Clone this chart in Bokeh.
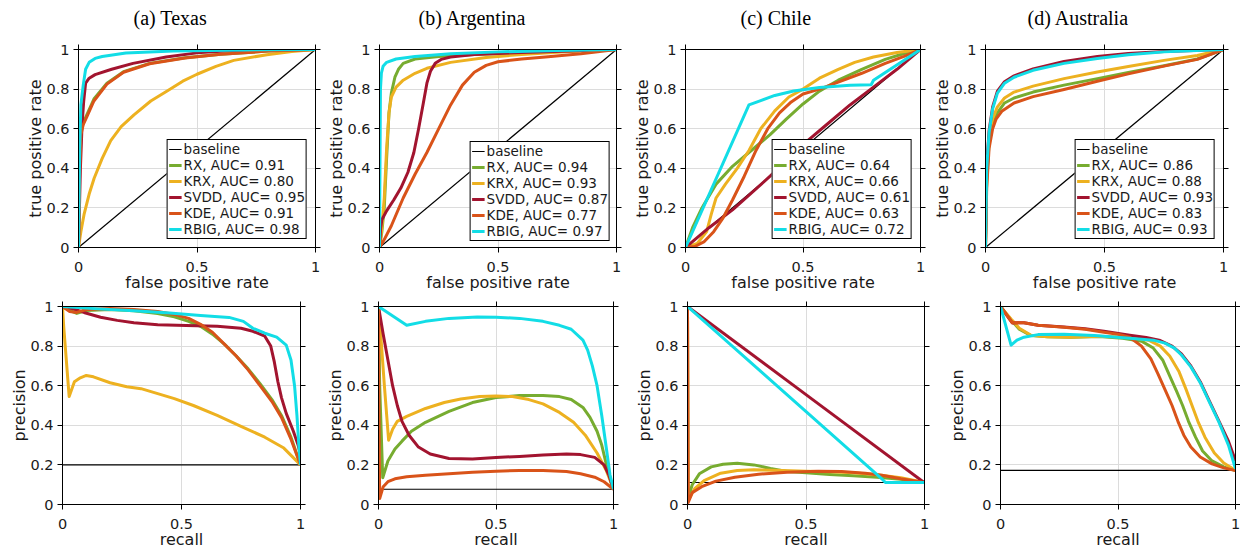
from bokeh.plotting import figure
from bokeh.layouts import row, column
from bokeh.models import Range1d, LinearAxis, FixedTicker, Legend, LegendItem, CustomJSTickFormatter
from bokeh.embed import file_html
from bokeh.resources import INLINE

FONT = "DejaVu Sans"
methods = ["RX", "KRX", "SVDD", "KDE", "RBIG"]
colors = ["#77AC30", "#EDB120", "#A2142F", "#D95319", "#12DDE6"]
titles = ["(a) Texas", "(b) Argentina", "(c) Chile", "(d) Australia"]
auc_tx = [0.91, 0.80, 0.95, 0.91, 0.98]
auc_ar = [0.94, 0.93, 0.87, 0.77, 0.97]
auc_cl = [0.64, 0.66, 0.61, 0.63, 0.72]
auc_au = [0.86, 0.88, 0.93, 0.83, 0.93]
x_ticks = [0, 0.5, 1]
y_ticks = [0, 0.2, 0.4, 0.6, 0.8, 1]
roc_baseline = [(0, 0), (1, 1)]
pr_baseline = [0.2, 0.077, 0.111, 0.172]

# ---- ROC curves (false positive rate, true positive rate) ----
tx_roc_rx = [(0,0),(0.005,0.42),(0.01,0.58),(0.02,0.63),(0.035,0.67),(0.065,0.75),(0.12,0.83),(0.19,0.888),(0.3,0.93),(0.45,0.958),(0.6,0.976),(0.8,0.992),(1,1)]
tx_roc_krx = [(0,0),(0.01,0.08),(0.024,0.17),(0.045,0.27),(0.066,0.35),(0.1,0.45),(0.136,0.54),(0.18,0.61),(0.234,0.67),(0.305,0.74),(0.374,0.79),(0.44,0.84),(0.5,0.875),(0.58,0.915),(0.655,0.945),(0.795,0.974),(0.9,0.99),(1,1)]
tx_roc_svdd = [(0,0),(0.008,0.4),(0.015,0.62),(0.022,0.74),(0.03,0.83),(0.045,0.855),(0.07,0.873),(0.14,0.9),(0.23,0.93),(0.37,0.962),(0.5,0.983),(0.65,0.995),(1,1)]
tx_roc_kde = [(0,0),(0.005,0.4),(0.01,0.57),(0.02,0.62),(0.035,0.66),(0.065,0.74),(0.12,0.825),(0.19,0.885),(0.3,0.928),(0.45,0.957),(0.6,0.976),(0.8,0.992),(1,1)]
tx_roc_rbig = [(0,0),(0.005,0.5),(0.01,0.72),(0.02,0.82),(0.03,0.9),(0.045,0.935),(0.07,0.955),(0.1,0.965),(0.2,0.982),(0.4,0.993),(0.7,0.998),(1,1)]

ar_roc_rx = [(0,0),(0.01,0.08),(0.02,0.2),(0.03,0.45),(0.04,0.68),(0.05,0.78),(0.065,0.86),(0.08,0.9),(0.1,0.93),(0.15,0.952),(0.25,0.965),(0.4,0.975),(0.6,0.985),(0.8,0.993),(1,1)]
ar_roc_krx = [(0,0),(0.01,0.1),(0.02,0.25),(0.03,0.5),(0.04,0.68),(0.05,0.76),(0.07,0.81),(0.1,0.845),(0.15,0.88),(0.2,0.905),(0.3,0.935),(0.45,0.96),(0.6,0.975),(0.8,0.99),(1,1)]
ar_roc_svdd = [(0,0),(0.005,0.1),(0.01,0.14),(0.03,0.185),(0.06,0.24),(0.09,0.3),(0.12,0.38),(0.145,0.48),(0.165,0.6),(0.185,0.73),(0.2,0.83),(0.215,0.89),(0.235,0.93),(0.26,0.95),(0.3,0.962),(0.4,0.975),(0.6,0.985),(0.8,0.993),(1,1)]
ar_roc_kde = [(0,0),(0.02,0.04),(0.05,0.11),(0.1,0.25),(0.15,0.37),(0.2,0.48),(0.25,0.6),(0.3,0.72),(0.35,0.82),(0.4,0.885),(0.45,0.92),(0.5,0.938),(0.6,0.952),(0.7,0.962),(0.85,0.978),(1,1)]
ar_roc_rbig = [(0,0),(0.002,0.4),(0.004,0.8),(0.008,0.88),(0.015,0.915),(0.03,0.935),(0.07,0.952),(0.15,0.965),(0.3,0.978),(0.5,0.988),(0.75,0.995),(1,1)]

cl_roc_rx = [(0,0),(0.03,0.1),(0.07,0.2),(0.13,0.32),(0.2,0.41),(0.28,0.49),(0.36,0.57),(0.43,0.65),(0.5,0.725),(0.57,0.79),(0.65,0.845),(0.75,0.9),(0.85,0.95),(0.93,0.98),(1,1)]
cl_roc_krx = [(0,0),(0.05,0.02),(0.09,0.08),(0.11,0.17),(0.13,0.25),(0.17,0.32),(0.22,0.4),(0.27,0.49),(0.32,0.6),(0.38,0.69),(0.44,0.76),(0.5,0.8),(0.57,0.855),(0.65,0.9),(0.72,0.935),(0.8,0.962),(0.9,0.985),(1,1)]
cl_roc_svdd = [(0,0),(0.1,0.1),(0.2,0.19),(0.36,0.36),(0.45,0.46),(0.52,0.54),(0.6,0.62),(0.7,0.72),(0.8,0.81),(0.9,0.9),(1,1)]
cl_roc_kde = [(0,0),(0.04,0.005),(0.08,0.03),(0.12,0.08),(0.16,0.15),(0.2,0.24),(0.25,0.36),(0.3,0.49),(0.35,0.6),(0.4,0.68),(0.45,0.735),(0.5,0.775),(0.57,0.8),(0.65,0.835),(0.75,0.88),(0.85,0.93),(0.93,0.965),(1,1)]
cl_roc_rbig = [(0,0),(0.27,0.72),(0.32,0.742),(0.38,0.768),(0.46,0.79),(0.57,0.808),(0.7,0.82),(0.79,0.822),(0.8,0.845),(0.86,0.892),(1,1)]

au_roc_rx = [(0,0),(0.005,0.33),(0.015,0.53),(0.03,0.62),(0.05,0.68),(0.08,0.73),(0.12,0.755),(0.2,0.785),(0.33,0.82),(0.47,0.853),(0.6,0.884),(0.75,0.918),(0.89,0.952),(1,1)]
au_roc_krx = [(0,0),(0.005,0.35),(0.015,0.55),(0.03,0.65),(0.05,0.71),(0.08,0.755),(0.12,0.785),(0.2,0.815),(0.33,0.853),(0.47,0.886),(0.6,0.914),(0.75,0.945),(0.89,0.97),(1,1)]
au_roc_svdd = [(0,0),(0.005,0.41),(0.015,0.59),(0.03,0.71),(0.05,0.79),(0.08,0.837),(0.12,0.867),(0.2,0.902),(0.33,0.94),(0.47,0.965),(0.6,0.98),(0.75,0.99),(1,1)]
au_roc_kde = [(0,0),(0.005,0.3),(0.015,0.5),(0.03,0.6),(0.045,0.65),(0.07,0.69),(0.12,0.73),(0.2,0.762),(0.33,0.798),(0.47,0.84),(0.6,0.877),(0.75,0.916),(0.89,0.95),(1,1)]
au_roc_rbig = [(0,0),(0.005,0.4),(0.015,0.58),(0.03,0.7),(0.05,0.78),(0.08,0.83),(0.12,0.86),(0.2,0.895),(0.33,0.93),(0.47,0.955),(0.6,0.974),(0.75,0.988),(1,1)]

# ---- Precision-recall curves (recall, precision) ----
tx_pr_rx = [(0,1),(0.03,0.98),(0.06,0.965),(0.1,0.98),(0.2,0.985),(0.3,0.978),(0.4,0.965),(0.47,0.948),(0.53,0.925),(0.58,0.9),(0.63,0.86),(0.68,0.81),(0.73,0.75),(0.78,0.685),(0.83,0.61),(0.88,0.53),(0.92,0.45),(0.96,0.34),(1,0.2)]
tx_pr_krx = [(0,1),(0.005,0.9),(0.028,0.545),(0.05,0.62),(0.075,0.64),(0.1,0.652),(0.13,0.645),(0.2,0.615),(0.27,0.595),(0.33,0.585),(0.4,0.56),(0.47,0.535),(0.55,0.5),(0.65,0.45),(0.75,0.395),(0.85,0.34),(0.93,0.285),(1,0.2)]
tx_pr_svdd = [(0,1),(0.04,0.99),(0.09,0.97),(0.16,0.946),(0.23,0.93),(0.3,0.918),(0.4,0.908),(0.52,0.904),(0.65,0.9),(0.75,0.89),(0.8,0.875),(0.85,0.85),(0.875,0.8),(0.89,0.72),(0.905,0.62),(0.92,0.54),(0.94,0.46),(0.97,0.37),(0.99,0.3),(1,0.25)]
tx_pr_kde = [(0,1),(0.03,0.975),(0.06,0.97),(0.1,0.985),(0.2,0.99),(0.3,0.985),(0.4,0.975),(0.47,0.96),(0.53,0.94),(0.58,0.91),(0.63,0.87),(0.68,0.81),(0.73,0.75),(0.78,0.68),(0.83,0.6),(0.88,0.52),(0.92,0.44),(0.96,0.33),(1,0.2)]
tx_pr_rbig = [(0,1),(0.15,0.988),(0.3,0.978),(0.45,0.967),(0.58,0.955),(0.7,0.945),(0.76,0.925),(0.8,0.89),(0.85,0.865),(0.9,0.845),(0.94,0.805),(0.96,0.73),(0.975,0.6),(0.985,0.45),(0.993,0.3),(1,0.2)]

ar_pr_rx = [(0,1),(0.005,0.6),(0.018,0.135),(0.04,0.22),(0.07,0.28),(0.1,0.32),(0.14,0.37),(0.2,0.415),(0.3,0.47),(0.4,0.515),(0.5,0.54),(0.6,0.55),(0.7,0.55),(0.77,0.545),(0.82,0.53),(0.87,0.49),(0.9,0.44),(0.93,0.37),(0.95,0.3),(0.97,0.2),(0.99,0.11),(1,0.077)]
ar_pr_krx = [(0,1),(0.01,0.85),(0.025,0.6),(0.043,0.325),(0.06,0.38),(0.08,0.42),(0.12,0.445),(0.2,0.485),(0.28,0.515),(0.35,0.533),(0.43,0.545),(0.5,0.548),(0.57,0.545),(0.64,0.53),(0.7,0.508),(0.77,0.465),(0.83,0.415),(0.88,0.35),(0.93,0.26),(0.97,0.17),(1,0.077)]
ar_pr_svdd = [(0,1),(0.02,0.86),(0.04,0.73),(0.06,0.6),(0.08,0.5),(0.1,0.42),(0.13,0.35),(0.17,0.29),(0.22,0.255),(0.3,0.232),(0.4,0.23),(0.5,0.237),(0.6,0.243),(0.7,0.25),(0.8,0.255),(0.86,0.252),(0.92,0.238),(0.96,0.2),(0.98,0.15),(1,0.077)]
ar_pr_kde = [(0,1),(0.002,0.5),(0.005,0.03),(0.02,0.09),(0.04,0.115),(0.07,0.13),(0.12,0.14),(0.2,0.148),(0.3,0.155),(0.4,0.163),(0.5,0.168),(0.6,0.172),(0.7,0.172),(0.8,0.167),(0.86,0.155),(0.92,0.138),(0.96,0.115),(1,0.077)]
ar_pr_rbig = [(0,1),(0.12,0.905),(0.2,0.925),(0.3,0.94),(0.42,0.947),(0.5,0.946),(0.6,0.94),(0.7,0.925),(0.77,0.905),(0.82,0.885),(0.87,0.83),(0.89,0.78),(0.91,0.7),(0.93,0.6),(0.95,0.45),(0.97,0.28),(0.985,0.15),(1,0.077)]

cl_pr_rx = [(0,1),(0.002,0.03),(0.02,0.1),(0.05,0.155),(0.1,0.19),(0.15,0.203),(0.21,0.208),(0.28,0.2),(0.35,0.182),(0.42,0.167),(0.5,0.16),(0.6,0.152),(0.7,0.145),(0.8,0.138),(0.9,0.128),(1,0.111)]
cl_pr_krx = [(0,1),(0.003,0.02),(0.03,0.08),(0.07,0.12),(0.14,0.158),(0.21,0.172),(0.28,0.175),(0.4,0.172),(0.5,0.168),(0.6,0.165),(0.7,0.16),(0.8,0.15),(0.9,0.135),(1,0.111)]
cl_pr_svdd = [(0,1),(0.5,0.555),(1,0.11)]
cl_pr_kde = [(0,1),(0.003,0.01),(0.02,0.06),(0.06,0.09),(0.12,0.118),(0.2,0.138),(0.3,0.153),(0.42,0.163),(0.55,0.168),(0.65,0.167),(0.75,0.158),(0.82,0.148),(0.9,0.13),(1,0.111)]
cl_pr_rbig = [(0,1),(0.82,0.13),(0.835,0.111),(1,0.111)]

au_pr_rx = [(0,1),(0.05,0.925),(0.08,0.885),(0.13,0.853),(0.2,0.847),(0.3,0.845),(0.42,0.848),(0.52,0.84),(0.6,0.825),(0.65,0.79),(0.69,0.73),(0.72,0.65),(0.75,0.57),(0.775,0.5),(0.8,0.42),(0.83,0.34),(0.86,0.27),(0.9,0.22),(0.95,0.19),(1,0.172)]
au_pr_krx = [(0,1),(0.05,0.93),(0.08,0.89),(0.13,0.855),(0.2,0.847),(0.3,0.845),(0.42,0.85),(0.55,0.845),(0.63,0.83),(0.68,0.8),(0.72,0.75),(0.76,0.67),(0.79,0.58),(0.815,0.5),(0.84,0.42),(0.87,0.34),(0.91,0.26),(0.95,0.21),(1,0.172)]
au_pr_svdd = [(0,1),(0.05,0.917),(0.1,0.918),(0.16,0.905),(0.27,0.897),(0.36,0.888),(0.44,0.875),(0.55,0.855),(0.62,0.843),(0.68,0.828),(0.73,0.8),(0.77,0.76),(0.81,0.7),(0.85,0.62),(0.89,0.52),(0.93,0.42),(0.97,0.32),(1,0.22)]
au_pr_kde = [(0,1),(0.05,0.918),(0.1,0.918),(0.16,0.905),(0.27,0.895),(0.36,0.885),(0.44,0.87),(0.5,0.86),(0.55,0.845),(0.6,0.8),(0.64,0.735),(0.67,0.66),(0.7,0.58),(0.73,0.5),(0.755,0.42),(0.78,0.35),(0.81,0.29),(0.85,0.24),(0.9,0.205),(0.95,0.185),(1,0.172)]
au_pr_rbig = [(0,1),(0.045,0.805),(0.07,0.83),(0.1,0.845),(0.16,0.858),(0.27,0.86),(0.4,0.853),(0.55,0.84),(0.65,0.83),(0.7,0.815),(0.74,0.79),(0.77,0.755),(0.81,0.695),(0.85,0.615),(0.89,0.515),(0.93,0.415),(0.97,0.3),(1,0.18)]

roc_sets = [
    [tx_roc_rx, tx_roc_krx, tx_roc_svdd, tx_roc_kde, tx_roc_rbig],
    [ar_roc_rx, ar_roc_krx, ar_roc_svdd, ar_roc_kde, ar_roc_rbig],
    [cl_roc_rx, cl_roc_krx, cl_roc_svdd, cl_roc_kde, cl_roc_rbig],
    [au_roc_rx, au_roc_krx, au_roc_svdd, au_roc_kde, au_roc_rbig],
]
pr_sets = [
    [tx_pr_rx, tx_pr_krx, tx_pr_svdd, tx_pr_kde, tx_pr_rbig],
    [ar_pr_rx, ar_pr_krx, ar_pr_svdd, ar_pr_kde, ar_pr_rbig],
    [cl_pr_rx, cl_pr_krx, cl_pr_svdd, cl_pr_kde, cl_pr_rbig],
    [au_pr_rx, au_pr_krx, au_pr_svdd, au_pr_kde, au_pr_rbig],
]
aucs = [auc_tx, auc_ar, auc_cl, auc_au]

# layout: (width, height, border_left, border_right, border_top, border_bottom)
top_layout = [(323, 296, 78, 8, 49, 49), (304, 296, 56, 11, 49, 49),
              (303, 296, 58, 10, 49, 49), (310, 296, 55, 17, 49, 49)]
bottom_layout = [(318, 256, 62, 18, 10, 48), (310, 256, 60, 15, 10, 48),
                 (310, 256, 59, 14, 10, 48), (302, 256, 62, 5, 10, 48)]
title_offsets = [55, 39, 55, 42]
legend_margins = [8, 6, 8, 8]

fmt_show = CustomJSTickFormatter(code="return String(tick);")
fmt_hide = CustomJSTickFormatter(code="return '';")


def style_axis(ax, ticks, show, is_x):
    ax.ticker = FixedTicker(ticks=ticks)
    ax.axis_line_color = "black"
    ax.axis_line_width = 1
    ax.major_tick_line_color = "black"
    ax.major_tick_line_width = 1
    ax.major_tick_out = 5
    ax.major_tick_in = 0
    ax.minor_tick_line_color = None
    ax.major_label_text_font = FONT
    if show:
        ax.formatter = fmt_show
        ax.major_label_text_color = "#1a1a1a"
        ax.major_label_text_font_size = "14.5px"
        ax.major_label_standoff = 9 if is_x else 4
        ax.axis_label_text_font = FONT
        ax.axis_label_text_font_size = "16px"
        ax.axis_label_text_font_style = "normal"
        ax.axis_label_text_color = "#1a1a1a"
        ax.axis_label_standoff = -2
    else:
        ax.formatter = fmt_hide
        ax.major_label_text_color = None
        ax.major_label_text_font_size = "1px"
        ax.major_label_standoff = 0
        ax.axis_label = None


def make_fig(lay, xlabel, ylabel, title=None, title_offset=0):
    w, h, bl, br, bt, bb = lay
    p = figure(width=w, height=h, x_range=Range1d(0, 1), y_range=Range1d(0, 1),
               output_backend="svg", toolbar_location=None,
               min_border_left=bl, min_border_right=br, min_border_top=bt, min_border_bottom=bb)
    p.background_fill_color = "white"
    p.border_fill_color = "white"
    p.outline_line_color = "black"
    p.outline_line_width = 1
    p.add_layout(LinearAxis(), "above")
    p.add_layout(LinearAxis(), "right")
    style_axis(p.below[0], x_ticks, True, True)
    style_axis(p.left[0], y_ticks, True, False)
    style_axis(p.above[0], x_ticks, False, True)
    style_axis(p.right[0], y_ticks, False, False)
    if title:
        # invisible spacer between the top tick marks and the panel title
        spacer = LinearAxis(axis_line_color=None, major_tick_line_color=None,
                            minor_tick_line_color=None, major_label_text_color=None,
                            major_tick_out=15, major_tick_in=0, major_label_standoff=0,
                            major_label_text_font_size="1px", formatter=fmt_hide,
                            ticker=FixedTicker(ticks=x_ticks))
        p.add_layout(spacer, "above")
        p.title.text = title
        p.title.align = "left"
        p.title.offset = title_offset
        p.title.vertical_align = "bottom"
        p.title.standoff = 2
        p.title.text_font = "Liberation Serif"
        p.title.text_font_size = "20px"
        p.title.text_font_style = "normal"
        p.title.text_color = "black"
    else:
        p.title = None
    p.below[0].axis_label = xlabel
    p.left[0].axis_label = ylabel
    p.xgrid.ticker = FixedTicker(ticks=[0.5])
    p.ygrid.ticker = FixedTicker(ticks=[0.2, 0.4, 0.6, 0.8])
    p.xgrid.grid_line_color = "#dcdcdc"
    p.ygrid.grid_line_color = "#dcdcdc"
    return p


top_figs = []
for i in range(4):
    p = make_fig(top_layout[i], "false positive rate", "true positive rate",
                 titles[i], title_offsets[i])
    rb = p.line([pt[0] for pt in roc_baseline], [pt[1] for pt in roc_baseline],
                line_color="black", line_width=1.2)
    items = [LegendItem(label="baseline", renderers=[rb])]
    for m, c, curve, a in zip(methods, colors, roc_sets[i], aucs[i]):
        r = p.line([pt[0] for pt in curve], [pt[1] for pt in curve],
                   line_color=c, line_width=3, line_join="round")
        items.append(LegendItem(label=f"{m}, AUC= {a:.2f}", renderers=[r]))
    leg = Legend(items=items, location="bottom_right", margin=legend_margins[i], padding=1,
                 spacing=0, label_height=16, glyph_height=16, glyph_width=13,
                 label_standoff=2, label_text_font=FONT, label_text_font_size="13.5px",
                 label_text_color="#1a1a1a",
                 border_line_color="black", border_line_width=1, border_line_alpha=1,
                 background_fill_color="white", background_fill_alpha=1)
    p.add_layout(leg)
    top_figs.append(p)

bottom_figs = []
for i in range(4):
    p = make_fig(bottom_layout[i], "recall", "precision")
    p.line([0, 1], [pr_baseline[i], pr_baseline[i]], line_color="black", line_width=1.2)
    for m, c, curve in zip(methods, colors, pr_sets[i]):
        p.line([pt[0] for pt in curve], [pt[1] for pt in curve],
               line_color=c, line_width=3, line_join="round")
    bottom_figs.append(p)

layout = column(row(*top_figs, spacing=0), row(*bottom_figs, spacing=0), spacing=0)

open("out.html", "w").write(file_html(layout, INLINE))
